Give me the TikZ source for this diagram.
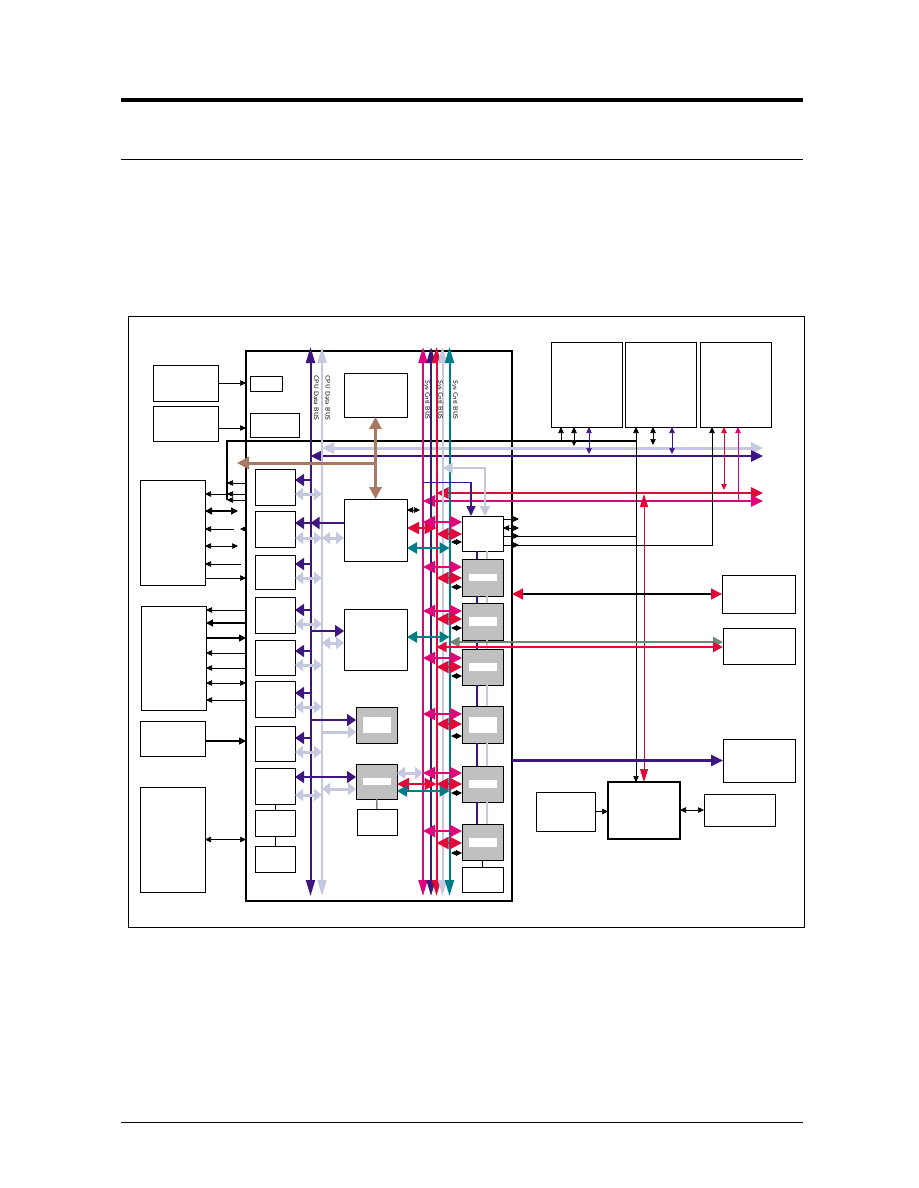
\documentclass[tikz,border=0pt]{standalone}
\usepackage{fontspec}
\usepackage{xcolor}
\usepackage{tikz}
\usetikzlibrary{arrows.meta,positioning}
\definecolor{cpupurple}{RGB}{62,22,128}
\definecolor{cpulight}{RGB}{198,200,224}
\definecolor{sysmag}{RGB}{226,0,122}
\definecolor{sysred}{RGB}{224,10,58}
\definecolor{systeal}{RGB}{0,124,136}
\definecolor{linkbrown}{RGB}{168,120,98}
\definecolor{linkgreen}{RGB}{104,138,118}
\definecolor{chipgray}{RGB}{192,192,192}
\newcommand{\whitebar}[1]{\textcolor{white}{\rule{28pt}{#1}}}

\begin{document}
\begin{tikzpicture}[x=1pt, y=-1pt,
          box/.style={draw, line width=0.8pt, fill=white,
                      inner sep=0pt, outer sep=0pt, anchor=north west},
          gbox/.style={box, fill=chipgray},
          wh/.style 2 args={minimum width=#1pt, minimum height=#2pt},
          sig/.style={line width=0.6pt, -{Triangle[length=6pt,width=5.5pt]}},
          sigl/.style={line width=0.6pt, {Triangle[length=6pt,width=5.5pt]}-},
          sigb/.style={line width=0.6pt, {Triangle[length=6pt,width=5.5pt]}-{Triangle[length=6pt,width=5.5pt]}},
          thk/.style={line width=1.5pt, arrows={-{Triangle[length=7pt,width=7pt]}}},
          bus/.style={line width=2pt, {Triangle[length=16pt,width=9pt]}-{Triangle[length=16pt,width=9pt]}},
          hbus/.style={line width=2.6pt, {Triangle[length=12pt,width=11pt]}-{Triangle[length=12pt,width=11pt]}},
          parr/.style={cpupurple, line width=1.6pt, -{Triangle[length=9pt,width=12pt]}},
          lgt/.style={cpulight, line width=3pt, {Triangle[length=8pt,width=12pt]}-{Triangle[length=8pt,width=12pt]}},
          lgtr/.style={cpulight, line width=3pt, -{Triangle[length=8pt,width=12pt]}},
          bigm/.style={sysmag, line width=2pt, {Triangle[length=12pt,width=12pt]}-{Triangle[length=12pt,width=12pt]}},
          bigr/.style={bigm, sysred},
          tealb/.style={systeal, line width=2.5pt, {Triangle[length=10pt,width=11pt]}-{Triangle[length=10pt,width=11pt]}},
          blkred/.style={line width=1.5pt, {Triangle[length=11pt,width=11pt,color=sysred]}-{Triangle[length=11pt,width=11pt,color=sysred]}},
          buslbl/.style={rotate=-90, inner sep=0pt, font=\fontsize{6.5}{7}\selectfont\sffamily}]
        \useasboundingbox (0,0) rectangle (918,1188);
        % page rules
        \draw[line width=4pt] (121,100) -- (803,100);
        \draw[line width=1pt] (121,159) -- (803,159);
        \draw[line width=0.8pt] (121,1122) -- (803,1122);

        % frame and chip
        \node[box, wh={676}{611}] (frame) at (128,316) {};
        \node[box, line width=2pt, wh={266}{550}] (chip) at (246,351) {};

        % outside left
        \node[box, wh={65}{36}] (l1) at (153,365) {};
        \node[box, wh={65}{35}] (l2) at (153,406) {};
        \node[box, wh={65}{105}] (l3) at (140,480) {};
        \node[box, wh={65}{104}] (l4) at (141,606) {};
        \node[box, wh={65}{35}] (l5) at (140,721) {};
        \node[box, wh={65}{105}] (l6) at (140,787) {};

        % inside the chip
        \node[box, wh={32}{15}] (s1) at (250,376) {};
        \node[box, wh={49}{24}] (s2) at (250,413) {};
        \node[box, wh={63}{44}] (tbox) at (344,373) {};
        \node[box, wh={63}{62}] (c1) at (344,499) {};
        \node[box, wh={63}{61}] (c2) at (344,609) {};
        \node[gbox, wh={41}{36}] (g1) at (356,707) {\whitebar{16pt}};
        \node[gbox, wh={41}{35}] (g2) at (356,764) {\whitebar{7pt}};
        \node[box, wh={40}{26}] (w1) at (357,809) {};
        \foreach \n/\y/\h in {b1/469/36, b2/511/36, b3/555/34, b4/597/36, b5/640/35,
                              b6/681/36, b7/726/35, b8/768/36, b9/810/26, b10/846/26}
          \node[box, wh={40}{\h}] (\n) at (255,\y) {};
        \node[box, wh={41}{35}] (r0) at (462,516) {};
        \node[gbox, wh={41}{37}] (r1) at (462,559) {\whitebar{7pt}};
        \node[gbox, wh={41}{37}] (r2) at (462,603) {\whitebar{9pt}};
        \node[gbox, wh={41}{36}] (r3) at (462,649) {\whitebar{8pt}};
        \node[gbox, wh={41}{37}] (r4) at (462,706) {\whitebar{16pt}};
        \node[gbox, wh={41}{36}] (r5) at (462,766) {\whitebar{8pt}};
        \node[gbox, wh={41}{36}] (r6) at (462,824) {\whitebar{9pt}};
        \node[box, wh={41}{25}] (r7) at (462,867) {};

        % outside right
        \node[box, wh={71}{85}] (tr1) at (551,342) {};
        \node[box, wh={71}{85}, right=3pt of tr1] (tr2) {};
        \node[box, wh={71}{85}, right=4pt of tr2] (tr3) {};
        \node[box, wh={73}{38}] (rb1) at (722,575) {};
        \node[box, wh={72}{36}] (rb2) at (723,628) {};
        \node[box, wh={72}{43}] (rb3) at (723,739) {};
        \node[box, line width=1.2pt, wh={72}{57}] (bc) at (608,782) {};
        \node[box, wh={59}{39}] (bl) at (536,792) {};
        \node[box, wh={71}{32}] (br) at (704,794) {};

        % bus positions
        \coordinate (cpuP) at (310.5,0);
        \coordinate (cpuL) at (322,0);
        \coordinate (sysM) at (423,0);
        \coordinate (sysP) at (431,0);
        \coordinate (sysR) at (436.5,0);
        \coordinate (sysL) at (442.5,0);
        \coordinate (sysT) at (449.5,0);
        \coordinate (btop) at (0,347);
        \coordinate (bbot) at (0,896);
        \coordinate (rim) at (763,0);
        \coordinate (tap) at (227,441);
        \coordinate (t1a) at ([xshift=10pt]tr1.south west);
        \coordinate (t1b) at ([xshift=23pt]tr1.south west);
        \coordinate (t1c) at ([xshift=38pt]tr1.south west);
        \coordinate (v2) at ([xshift=11pt]tr2.south west);
        \coordinate (t2b) at ([xshift=28pt]tr2.south west);
        \coordinate (t2c) at ([xshift=47pt]tr2.south west);
        \coordinate (v3) at ([xshift=12pt]tr3.south west);
        \coordinate (t3b) at ([xshift=24pt]tr3.south west);
        \coordinate (t3c) at ([xshift=38pt]tr3.south west);

        % long buses to the right
        \draw[hbus, cpulight, line width=3pt] (cpuL |- 0,448) -- (rim |- 0,448);
        \draw[hbus, cpupurple] (cpuP |- 0,456) -- (rim |- 0,456);
        \draw[hbus, sysred] (sysR |- 0,493) -- (rim |- 0,493);
        \draw[hbus, sysmag] (sysM |- 0,501) -- (rim |- 0,501);

        % black wire over the top
        \draw[line width=1.4pt] (tap |- 0,500) -- (tap) -- (v2 |- tap);

        % vertical buses
        \foreach \bx/\col in {cpuP/cpupurple, cpuL/cpulight, sysM/sysmag, sysP/cpupurple,
                              sysR/sysred, sysL/cpulight, sysT/systeal}
          \draw[bus, \col] (\bx |- btop) -- (\bx |- bbot);
        \node[buslbl] (cpulbl1) at (316.5,398) {CPU Data BUS};
        \node[buslbl] (cpulbl2) at (328,398) {CPU Data BUS};
        \node[buslbl] (syslbl1) at (427,400) {Sys Cntl BUS};
        \node[buslbl] (syslbl2) at (440,400) {Sys Cntl BUS};
        \node[buslbl] (syslbl3) at (455,400) {Sys Cntl BUS};

        % brown link
        \coordinate (brl) at (237,463);
        \draw[linkbrown, line width=3pt, {Triangle[length=12pt,width=12pt]}-{Triangle[length=12pt,width=12pt]}] (tbox) -- (c1);
        \draw[linkbrown, line width=3pt, -{Triangle[length=12pt,width=12pt]}] (tbox.south |- brl) -- (brl);

        % left side signals
        \draw[sig] (l1) -- (chip.west |- l1);
        \draw[sig] (l2.east |- 0,428) -- (chip.west |- 0,428);
        \foreach \y in {483,494,500}
          \draw[sig] (chip.west |- 0,\y) -- (tap |- 0,\y);
        \draw[sig] (tap |- 0,494) -- (l3.east |- 0,494);
        \draw[thk, arrows={{Triangle[length=7pt,width=7pt]}-{Triangle[length=7pt,width=7pt]}}] (l3.east |- 0,511) -- +(33,0);
        \draw[sigl] (l3.east |- 0,529) -- +(29,0);
        \draw[sig] (chip.west |- 0,529) -- +(-6,0);
        \draw[sigb] (l3.east |- 0,546) -- +(33,0);
        \draw[sigl] (l3.east |- 0,564) -- +(36,0);
        \draw[sig] (l3.east |- 0,578) -- (chip.west |- 0,578);
        \foreach \y/\st in {610/sigl, 653/sigl, 668/sigl, 683/sigb, 700/sigl}
          \draw[\st] (l4.east |- 0,\y) -- (chip.west |- 0,\y);
        \draw[thk, arrows={{Triangle[length=7pt,width=7pt]}-}] (l4.east |- 0,623) -- (chip.west |- 0,623);
        \draw[thk] (l4.east |- 0,638) -- (chip.west |- 0,638);
        \draw[thk] (l5.east |- 0,741) -- (chip.west |- 0,741);
        \draw[sigb] (l6) -- (chip.west |- l6);

        % CPU bus taps
        \foreach \bx/\yp/\yl in {b1/480/494, b2/523/538, b3/564/578, b4/610/624,
                                 b5/651/665, b6/693/707, b7/738/752, b8/777/795}{
          \draw[parr] (cpuP |- 0,\yp) -- (\bx.east |- 0,\yp);
          \draw[lgt] (\bx.east |- 0,\yl) -- (cpuL |- 0,\yl);
        }
        \draw[parr] (c1.west |- 0,523) -- (cpuP |- 0,523);
        \draw[lgt] (cpuL |- 0,538) -- (c1.west |- 0,538);
        \draw[parr] (cpuP |- 0,631) -- (c2.west |- 0,631);
        \draw[lgt] (cpuL |- 0,643) -- (c2.west |- 0,643);
        \draw[parr] (cpuP |- 0,720) -- (g1.west |- 0,720);
        \draw[lgtr] (cpuL |- 0,732) -- (g1.west |- 0,732);
        \draw[parr] (cpuP |- 0,777) -- (g2.west |- 0,777);
        \draw[lgt] (cpuL |- 0,789) -- (g2.west |- 0,789);
        \draw (b8) -- (b9);
        \draw (b9) -- (b10);
        \draw[gray, line width=1.5pt] (g2) -- (w1);

        % Sys bus taps
        \draw[sigb, line width=0.5pt] (c1.east |- 0,510) -- +(13,0);
        \draw[bigr] (c1.east |- 0,528) -- (sysR |- 0,528);
        \draw[tealb] (c1.east |- 0,548) -- (sysT |- 0,548);
        \draw[tealb] (c2.east |- 0,637) -- (sysT |- 0,637);
        \draw[lgt] (g2.east |- 0,773) -- (sysM |- 0,773);
        \draw[bigr] (g2.east |- 0,784) -- (sysR |- 0,784);
        \draw[tealb] (g2.east |- 0,791) -- (sysT |- 0,791);
        \foreach \bx/\ym/\yr/\yk in {r0/522/534/542, r1/567/578/587, r2/611/619/628,
                                     r3/658/667/676, r4/714/724/736, r5/773/784/793,
                                     r6/831/843/853}{
          \draw[bigm] (sysM |- 0,\ym) -- (\bx.west |- 0,\ym);
          \draw[bigr] (sysR |- 0,\yr) -- (\bx.west |- 0,\yr);
          \draw[sigb, line width=0.5pt] (\bx.west |- 0,\yk) -- +(-11,0);
        }
        \foreach \ra/\rb in {r0/r1, r1/r2, r2/r3, r3/r4, r4/r5, r5/r6}{
          \draw[cpupurple, line width=1.6pt] ([xshift=15pt]\ra.south west) -- ([xshift=15pt]\rb.north west);
          \draw[cpulight, line width=1.2pt] ([xshift=25pt]\ra.south west) -- ([xshift=25pt]\rb.north west);
        }
        \draw[line width=1.2pt] (r6) -- (r7);
        \draw[cpupurple, line width=1.6pt, -{Triangle[length=10pt,width=9pt]}] (sysM |- 0,482.5) -| ([xshift=9pt]r0.north west);
        \draw[cpulight, line width=2.5pt, {Triangle[length=10pt,width=10pt]}-{Triangle[length=10pt,width=10pt]}] (sysL |- 0,468) -| ([xshift=23pt]r0.north west);

        % R0 outputs
        \draw[sig] (r0.east |- 0,519) -- +(16,0);
        \draw[sigb] (r0.east |- 0,528) -- +(16,0);
        \draw[line width=0.6pt] (r0.east |- 0,536) -- (v2 |- 0,536);
        \draw[sig] (r0.east |- 0,536) -- +(16,0);
        \draw[sig] (r0.east |- 0,545) -| (v3);
        \draw[sig] (r0.east |- 0,545) -- +(16,0);

        % top right blocks
        \draw[sig] (t1a |- tap) -- (t1a);
        \draw[sigb] (t1b) -- (t1b |- 0,446);
        \draw[sigb, cpupurple] (t1c) -- (t1c |- 0,454);
        \draw[sigb] (v2) -- (v2 |- bc.north);
        \draw[sigb] (t2b) -- (t2b |- 0,445);
        \draw[sigb, cpupurple] (t2c) -- (t2c |- 0,454);
        \draw[sigb, sysred, line width=0.9pt] (t3b) -- (t3b |- 0,490);
        \draw[sig, sysmag, line width=0.9pt] (t3c |- 0,501) -- (t3c);
        \draw[sysred, line width=0.9pt, {Triangle[length=13pt,width=8pt]}-{Triangle[length=13pt,width=8pt]}] (bc.north |- 0,494) -- (bc.north);

        % right blocks
        \draw[blkred] (chip.east |- rb1) -- (rb1);
        \draw[linkgreen, line width=2pt, {Triangle[length=10pt,width=10pt]}-{Triangle[length=10pt,width=10pt]}] (sysT |- 0,642) -- (rb2.west |- 0,642);
        \draw[sysred, line width=2pt, {Triangle[length=10pt,width=10pt]}-{Triangle[length=10pt,width=10pt]}] (sysR |- 0,647) -- (rb2.west |- 0,647);
        \draw[cpupurple, line width=2.6pt, -{Triangle[length=12pt,width=11pt]}] (chip.east |- rb3) -- (rb3);
        \draw[sig] (bl.east) -- (bc.west |- bl.east);
        \draw[sigb] (bc.east |- br) -- (br);
      \end{tikzpicture}
\end{document}
